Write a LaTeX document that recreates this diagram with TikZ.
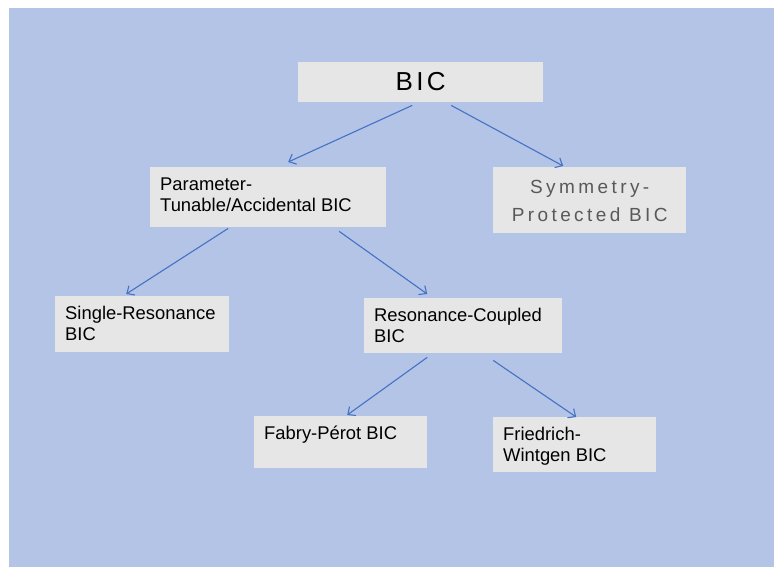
\documentclass[tikz,border=0pt]{standalone}
\usepackage{fontspec}
\setmainfont{Liberation Sans}
\usepackage{tikz}
\usetikzlibrary{arrows.meta}

\definecolor{bgblue}{HTML}{B4C4E6}
\definecolor{boxgray}{HTML}{E6E6E6}
\definecolor{arrowblue}{HTML}{4472C4}
\definecolor{symgray}{HTML}{595959}

% width, height, first baseline, text
\newcommand{\boxtext}[4]{\parbox[c][#2][t]{#1}{\rule{0pt}{#3}#4}}

\tikzset{
  box/.style={fill=boxgray, inner xsep=10pt, inner ysep=0pt, anchor=north west,
    text=black, font=\fontsize{18.4}{21.7}\selectfont},
  arr/.style={draw=arrowblue, line width=1.1pt, -{Straight Barb[length=6pt, width=11pt]}}
}

\begin{document}
\begin{tikzpicture}[x=1pt, y=-1pt]
  % page
  \useasboundingbox (0, 0) rectangle (774, 567);
  \fill[bgblue] (9, 8) rectangle (774, 567);

  % top level
  \node[box, font=\fontsize{26}{30}\selectfont\addfontfeatures{LetterSpace=13}] (bic) at (298, 62)
    {\boxtext{225pt}{40pt}{28.7pt}{\centering BIC}};

  % second level
  \node[box] (tunable) at (150, 167)
    {\boxtext{216pt}{60pt}{23pt}{Parameter-\\Tunable/Accidental BIC}};
  \node[box, text=symgray, font=\fontsize{19}{28}\selectfont\addfontfeatures{LetterSpace=18}] (symmetry) at (493, 167)
    {\boxtext{173pt}{66pt}{26pt}{\centering Symmetry-\\Protected BIC}};

  % third level
  \node[box] (single) at (55, 296)
    {\boxtext{154pt}{56pt}{23pt}{Single-Resonance\\BIC}};
  \node[box] (coupled) at (364, 298)
    {\boxtext{178pt}{55pt}{23pt}{Resonance-Coupled\\BIC}};

  % fourth level
  \node[box] (fabry) at (254, 416)
    {\boxtext{153pt}{52pt}{23pt}{Fabry-Pérot BIC}};
  \node[box] (friedrich) at (493, 417)
    {\boxtext{143pt}{55pt}{23pt}{Friedrich-\\Wintgen BIC}};

  % arrows
  \draw[arr] ([xshift=-8.5pt, yshift=-3pt]bic.south) -- ([xshift=20pt, yshift=5pt]tunable.north);
  \draw[arr] ([xshift=30.5pt, yshift=-3pt]bic.south) -- ([xshift=-26.5pt, yshift=1pt]symmetry.north);
  \draw[arr] ([xshift=-40pt, yshift=-1pt]tunable.south) -- ([xshift=-16pt, yshift=2pt]single.north);
  \draw[arr] ([xshift=71pt, yshift=-4pt]tunable.south) -- ([xshift=-36pt, yshift=4pt]coupled.north);
  \draw[arr] ([xshift=-36pt, yshift=-4pt]coupled.south) -- ([xshift=6.5pt, yshift=1pt]fabry.north);
  \draw[arr] ([xshift=30pt, yshift=-7pt]coupled.south) -- ([xshift=1.5pt, yshift=0pt]friedrich.north);
\end{tikzpicture}
\end{document}
